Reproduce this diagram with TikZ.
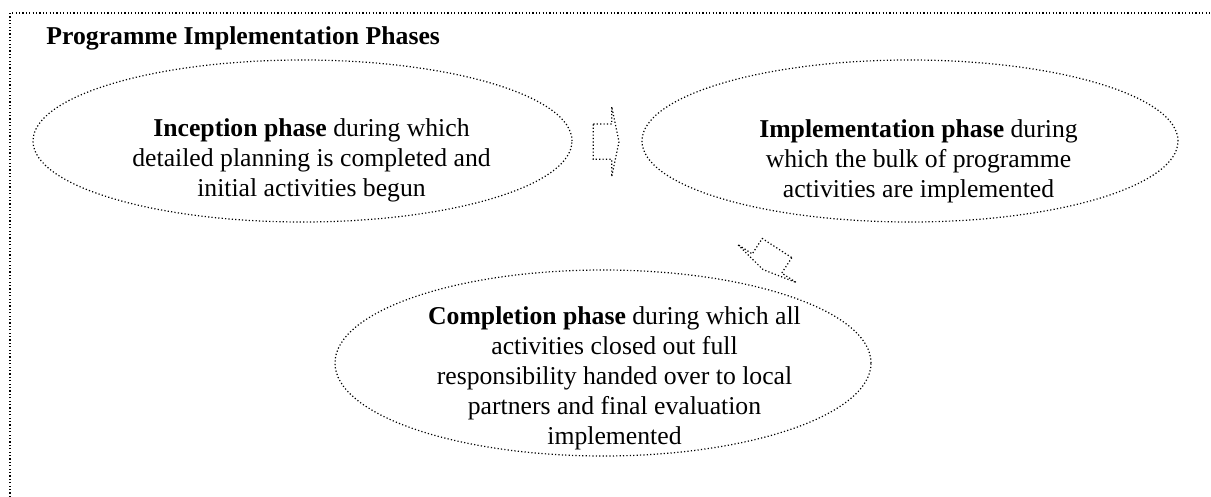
\documentclass[tikz,border=0pt]{standalone}
\usepackage{fontspec}
\setmainfont{Liberation Serif}
\usetikzlibrary{shapes.geometric}
\begin{document}
\begin{tikzpicture}[x=0.5pt,y=-0.5pt,
  dots/.style={line width=0.6pt, dash pattern=on 0.6pt off 1.1pt, black},
  phase/.style={dots, draw, ellipse, inner sep=0pt},
  txt/.style={font=\fontsize{12.85pt}{15pt}\selectfont, inner sep=0pt, anchor=base},
  blockarrow/.style={dots, line join=miter}]
\useasboundingbox (0,0) rectangle (1211,497);
% frame
\draw[dots] (10,497) -- (10,13) -- (1211,13);
% title
\node[txt, anchor=base west, font=\fontsize{12.85pt}{15pt}\selectfont\bfseries] (title) at (46,45) {Programme Implementation Phases};
% ellipses
\node[phase, minimum width=269.5pt, minimum height=81pt] (inc) at (302.5,141) {};
\node[phase, minimum width=268pt, minimum height=81pt] (imp) at (910,141) {};
\node[phase, minimum width=268pt, minimum height=93pt] (com) at (603,363) {};
% texts
\node[txt] (inctxt) at (311.5,137) {\begin{tabular}[t]{@{}c@{}}\textbf{Inception phase} during which\\ detailed planning is completed and\\ initial activities begun\end{tabular}};
\node[txt] (imptxt) at (918.5,137.5) {\begin{tabular}[t]{@{}c@{}}\textbf{Implementation phase} during\\ which the bulk of programme\\ activities are implemented\end{tabular}};
\begin{scope}
\clip (0,0) rectangle (1211,449);
\node[txt] (comtxt) at (614.5,325) {\begin{tabular}[t]{@{}c@{}}\textbf{Completion phase} during which all\\ activities closed out full\\ responsibility handed over to local\\ partners and final evaluation\\ implemented\end{tabular}};
\end{scope}
% block arrows
\draw[blockarrow] (593.3,124) -- (611.7,124) -- (611.7,106.7) -- (619,141.7) -- (611.7,176.7) -- (611.7,159.3) -- (593.3,159.3) -- cycle;
\begin{scope}[shift={(767,263.5)}, rotate=-123]
\draw[blockarrow] (-18.4,-17.6) -- (0,-17.6) -- (0,-35) -- (7.3,0) -- (0,35) -- (0,17.6) -- (-18.4,17.6) -- cycle;
\end{scope}
\end{tikzpicture}
\end{document}
